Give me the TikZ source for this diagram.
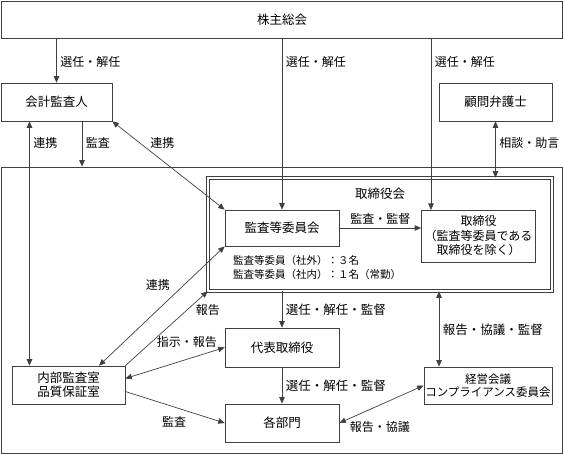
\documentclass[tikz,border=0pt]{standalone}
\usepackage{fontspec}
\setmainfont{Noto Sans CJK JP}
\usetikzlibrary{arrows.meta}

\begin{document}
\begin{tikzpicture}[
        x=1pt, y=-1pt,
        box/.style={
            draw=black!75, line width=0.7pt,
            inner sep=0pt, align=center,
            font=\fontsize{12.5}{14.5}\selectfont,
          },
        lbl/.style={
            inner sep=3.5pt,
            font=\fontsize{#1}{14}\selectfont,
          },
        lbl/.default=12,
        arr/.style={draw=black!75, line width=0.7pt, -{Triangle[length=6.5pt,width=5.5pt]}},
        arrs/.style={draw=black!75, line width=0.7pt, {Triangle[length=6.5pt,width=5.5pt]}-{Triangle[length=6.5pt,width=5.5pt]}},
        ]
        \useasboundingbox (0,0) rectangle (564,454);
        \node[box, minimum width=561pt, minimum height=37pt] (gm) at (282,19.5) {株主総会};
        \node[box, minimum width=111pt, minimum height=38pt] (auditor) at (56.5,102) {会計監査人};
        \node[box, minimum width=113pt, minimum height=38pt] (lawyer) at (495.5,102) {顧問弁護士};
        \node[box, minimum width=561pt, minimum height=286pt] (corp) at (281.5,310) {};
        \node[box, line width=0.6pt, double=white, double distance=2.2pt, minimum width=344pt, minimum height=113pt] (board) at (380,234.5) {};
        \node[box, draw=none] (bt) at (380,194) {取締役会};
        \node[box, minimum width=114pt, minimum height=36pt] (ac) at (282,228) {監査等委員会};
        \node[box, minimum width=114pt, minimum height=52pt, font=\fontsize{12}{14.5}\selectfont] (dir) at (478.5,236) {取締役\\（監査等委員である\\取締役を除く）};
        \node[anchor=north west, align=left, inner sep=0pt, font=\fontsize{10.5}{14}\selectfont] (acnote) at (233,255) {監査等委員（社外）：３名\\監査等委員（社内）：１名（常勤）};
        \node[box, minimum width=114pt, minimum height=39pt] (rep) at (282,347.5) {代表取締役};
        \node[box, minimum width=113pt, minimum height=38pt, font=\fontsize{12.5}{13.5}\selectfont] (ia) at (68.5,385) {内部監査室\\品質保証室};
        \node[box, minimum width=114pt, minimum height=38pt] (div) at (282,423) {各部門};
        \node[box, minimum width=128pt, minimum height=37pt, font=\fontsize{11.5}{13.5}\selectfont] (mc) at (488,385.5) {経営会議\\コンプライアンス委員会};

        \coordinate (dt) at (431,210);
        \coordinate (lk) at (29.5,0);
        \coordinate (ak) at (82,0);
        \coordinate (mk) at (439,0);

        \draw[arr] (gm.south -| auditor) -- node[lbl, right, pos=0.53] {選任・解任} (auditor.north);
        \draw[arr] (gm.south -| ac) -- node[lbl, right, pos=0.14] {選任・解任} (ac.north);
        \draw[arr] (gm.south -| dt) -- node[lbl, right, pos=0.14] {選任・解任} (dt);
        \draw[arrs] (lawyer.south) -- node[lbl, right, pos=0.39] {相談・助言} (lawyer.south |- board.north);
        \draw[arrs] (auditor.south -| lk) -- node[lbl, right, pos=0.09] {連携} (ia.north -| lk);
        \draw[arr] (auditor.south -| ak) -- node[lbl, right, pos=0.48] {監査} (corp.north -| ak);
        \draw[arrs] (auditor.south east) -- node[lbl, pos=0.25, anchor=west, xshift=6pt] {連携} (ac.north west);
        \draw[arrs] ([xshift=30.5pt]ia.north) -- node[lbl, pos=0.675, anchor=east, xshift=-10pt] {連携} (ac.south west);
        \draw[arr] (ia.north east) -- node[lbl, pos=0.75, anchor=west, xshift=5pt] {報告} (board.south west);
        \draw[arrs] ([yshift=6.5pt]ia.east) -- node[lbl, pos=0.62, anchor=south, yshift=8pt] {指示・報告} (rep.west);
        \draw[arr] ([yshift=-6.5pt]ia.east) -- node[lbl, pos=0.49, anchor=north, yshift=-6pt] {監査} (div.west);
        \draw[arr] (ac.east) -- node[lbl, above, pos=0.5] {監査・監督} (ac.east -| dir.west);
        \draw[arr] (board.south -| rep) -- node[lbl=12.5, right, pos=0.51] {選任・解任・監督} (rep.north);
        \draw[arr] (rep.south) -- node[lbl=12.5, right, pos=0.51] {選任・解任・監督} (div.north);
        \draw[arrs] (board.south -| mk) -- node[lbl=12.5, right, pos=0.51] {報告・協議・監督} (mc.north -| mk);
        \draw[arrs] (div.east) -- node[lbl, pos=0.48, anchor=north, yshift=-13pt] {報告・協議} (mc.west);
    \end{tikzpicture}
\end{document}
